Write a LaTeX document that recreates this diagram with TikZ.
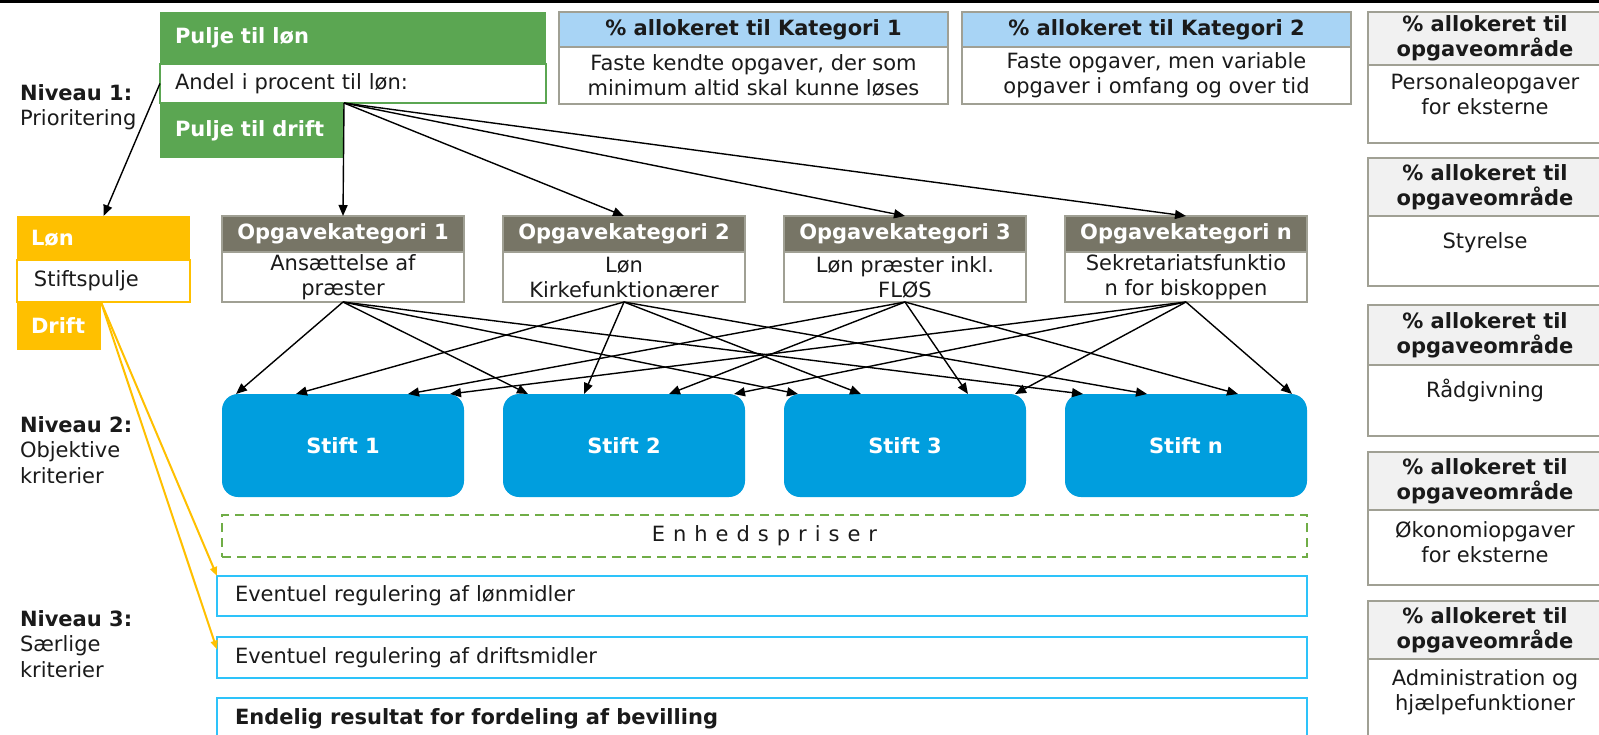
\documentclass[tikz,border=0pt]{standalone}
\usepackage{fontspec}
\setmainfont{DejaVu Sans}
\usetikzlibrary{arrows.meta,calc}

\definecolor{pulje}{RGB}{91,166,82}
\definecolor{gul}{RGB}{255,192,0}
\definecolor{katblaa}{RGB}{168,212,245}
\definecolor{ramme}{RGB}{160,160,148}
\definecolor{opghoved}{RGB}{119,117,102}
\definecolor{graafelt}{RGB}{241,241,241}
\definecolor{stiftblaa}{RGB}{0,158,222}
\definecolor{regramme}{RGB}{45,195,250}
\definecolor{enhedgroen}{RGB}{112,173,71}
\definecolor{tekst}{RGB}{26,26,26}

\newcommand{\txtsize}{\fontsize{21}{25}\selectfont}

\tikzset{
  every node/.style={inner sep=0pt, outer sep=0pt, font=\txtsize, text=tekst},
  tl/.style={anchor=north west},
  boldtxt/.style={font=\txtsize\bfseries},
  whitebold/.style={font=\txtsize\bfseries, text=white},
  arr/.style={draw=black, line width=1.4pt, -{Triangle[length=11pt,width=9pt]}},
  yarr/.style={draw=gul, line width=2pt, -{Triangle[length=9pt,width=7pt]}},
  katbox/.style={tl, draw=ramme, line width=1.5pt, minimum width=389, align=center},
  opgbox/.style={tl, draw=ramme, line width=2pt, minimum width=242, align=center},
  omraade/.style={tl, draw=ramme, line width=2pt, minimum width=234, align=center},
  stiftbox/.style={tl, fill=stiftblaa, rounded corners=16pt, minimum width=242, minimum height=103, whitebold},
  regbox/.style={tl, draw=regramme, line width=2.5pt, fill=white, text width=1054, align=left, inner xsep=18pt},
  level/.style={anchor=west, align=left, font=\fontsize{21}{25.5}\selectfont},
}

\begin{document}
\begin{tikzpicture}[x=1pt, y=-1pt]
\useasboundingbox (0,0) rectangle (1599,734);
\fill[white] (0,0) rectangle (1599,734);
\fill[black] (0,0) rectangle (1599,2.5);

% Level labels
\node[level] (n1) at (20,107) {\textbf{Niveau 1:}\\Prioritering};
\node[level] (n2) at (20,450) {\textbf{Niveau 2:}\\Objektive\\kriterier};
\node[level] (n3) at (20,644) {\textbf{Niveau 3:}\\Særlige\\kriterier};

% Pools
\node[tl, fill=pulje, minimum width=386, minimum height=52, text width=356, align=left, inner xsep=15pt, whitebold] (pl) at (160,12) {Pulje til løn};
\node[tl, fill=pulje, minimum width=184, minimum height=55, text width=154, align=left, inner xsep=15pt, whitebold] (pd) at (160,103) {Pulje til drift};
\node[tl, fill=white, draw=pulje, line width=1.5pt, minimum width=386, minimum height=39, text width=356, align=left, inner xsep=15pt] (pa) at (160,64) {Andel i procent til løn:};

% Category shares
\node[katbox, fill=katblaa, minimum height=35, boldtxt] (k1h) at (559,12) {\% allokeret til Kategori 1};
\node[katbox, fill=white, minimum height=57] (k1b) at (559,47) {Faste kendte opgaver, der som\\minimum altid skal kunne løses};
\node[katbox, fill=katblaa, minimum height=35, boldtxt] (k2h) at (962,12) {\% allokeret til Kategori 2};
\node[katbox, fill=white, minimum height=57] (k2b) at (962,47) {Faste opgaver, men variable\\opgaver i omfang og over tid};

% Task areas (right column)
\node[omraade, fill=white, minimum height=78] (r1b) at (1368,65) {};
\node[omraade, fill=graafelt, minimum height=53, boldtxt] (r1h) at (1368,12) {\% allokeret til\\opgaveområde};
\node[align=center] (r1t) at (1485,94) {Personaleopgaver\\for eksterne};

\node[omraade, fill=white, minimum height=70] (r2b) at (1368,216) {};
\node[omraade, fill=graafelt, minimum height=58, boldtxt] (r2h) at (1368,158) {\% allokeret til\\opgaveområde};
\node[align=center] (r2t) at (1485,243) {Styrelse};

\node[omraade, fill=white, minimum height=71] (r3b) at (1368,365) {};
\node[omraade, fill=graafelt, minimum height=60, boldtxt] (r3h) at (1368,305) {\% allokeret til\\opgaveområde};
\node[align=center] (r3t) at (1485,390) {Rådgivning};

\node[omraade, fill=white, minimum height=75] (r4b) at (1368,510) {};
\node[omraade, fill=graafelt, minimum height=58, boldtxt] (r4h) at (1368,452) {\% allokeret til\\opgaveområde};
\node[align=center] (r4t) at (1485,542) {Økonomiopgaver\\for eksterne};

\node[omraade, fill=white, minimum height=90] (r5b) at (1368,659) {};
\node[omraade, fill=graafelt, minimum height=58, boldtxt] (r5h) at (1368,601) {\% allokeret til\\opgaveområde};
\node[align=center] (r5t) at (1485,692) {Administration og\\hjælpefunktioner};

% Stift pool
\node[tl, fill=gul, minimum width=173, minimum height=44, text width=145, align=left, inner xsep=14pt, whitebold] (yl) at (17,216) {Løn};
\node[tl, fill=gul, minimum width=84, minimum height=48, text width=56, align=left, inner xsep=14pt, whitebold] (yd) at (17,302) {Drift};
\node[tl, fill=white, draw=gul, line width=1.5pt, minimum width=173, minimum height=42, text width=139, align=left, inner xsep=17pt] (ys) at (17,260) {Stiftspulje};

% Task categories
\foreach \i/\x/\nm/\body in {1/222/1/{Ansættelse af\\præster}, 2/503/2/{Løn\\Kirkefunktionærer}, 3/784/3/{Løn præster inkl.\\FLØS}, 4/1065/n/{Sekretariatsfunktio\\n for biskoppen}}{
  \node[opgbox, fill=white, minimum height=50] (ob\i) at (\x,252) {\body};
  \node[opgbox, fill=opghoved, minimum height=36, whitebold] (oh\i) at (\x,216) {Opgavekategori \nm};
  \node[stiftbox] (s\i) at (\x,394) {Stift \nm};
}

% Unit prices and adjustments
\node[tl, draw=enhedgroen, line width=2pt, dash pattern=on 9pt off 6pt, minimum width=1085, minimum height=42] (enh) at (222,515)
  {\addfontfeature{LetterSpace=38}Enhedspriser};
\node[regbox, minimum height=40] (ev1) at (217,576) {Eventuel regulering af lønmidler};
\node[regbox, minimum height=41] (ev2) at (217,637) {Eventuel regulering af driftsmidler};
\node[regbox, minimum height=42, boldtxt] (end) at (217,698) {Endelig resultat for fordeling af bevilling};

% Entry points on top of each Stift
\foreach \j/\a/\b/\c/\d in {1/14/74/186/228, 2/25/81/166/231, 3/14/77/184/231, 4/18/82/173/227}{
  \path (s\j.north west) ++(\a,0) coordinate (e1\j);
  \path (s\j.north west) ++(\b,0) coordinate (e2\j);
  \path (s\j.north west) ++(\c,0) coordinate (e3\j);
  \path (s\j.north west) ++(\d,0) coordinate (e4\j);
}

% Connectors
\coordinate (po) at (pd.north east);
\draw[arr] (pa.west) -- (yl.north);
\foreach \i in {1,...,4}{
  \draw[arr] (po) -- (oh\i.north);
  \foreach \j in {1,...,4}{
    \draw[arr] (ob\i.south) -- (e\i\j);
  }
}
\draw[yarr] (yd.north east) -- (ev1.north west);
\draw[yarr] (yd.north east) -- ([yshift=8pt]ev2.west);
\end{tikzpicture}
\end{document}
